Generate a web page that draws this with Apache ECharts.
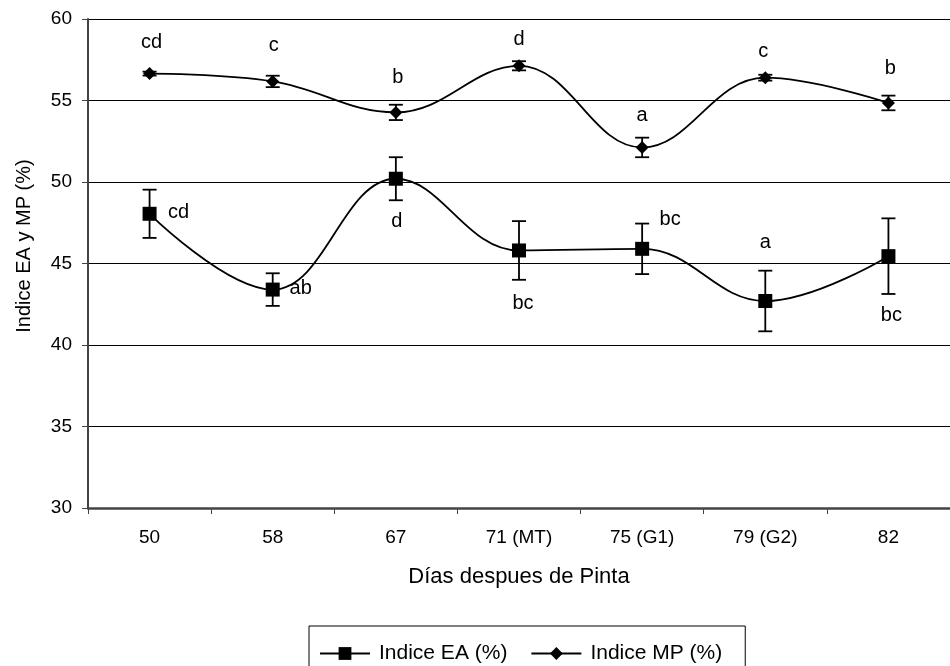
<!DOCTYPE html>
<html>
<head>
<meta charset="utf-8">
<script src="https://cdn.jsdelivr.net/npm/echarts@6/dist/echarts.min.js"></script>
<style>
html,body{margin:0;padding:0;background:#fff;}
#chart{width:950px;height:666px;}
</style>
</head>
<body>
<div id="chart"></div>
<script>
// ---- data ----
const categories = ['50', '58', '67', '71 (MT)', '75 (G1)', '79 (G2)', '82'];
const eaValues = [48.05, 43.4, 50.2, 45.8, 45.9, 42.7, 45.45];
const eaErrors = [1.48, 1.0, 1.32, 1.8, 1.55, 1.86, 2.32];
const mpValues = [56.65, 56.17, 54.27, 57.13, 52.12, 56.4, 54.85];
const mpErrors = [0.12, 0.35, 0.47, 0.28, 0.6, 0.18, 0.45];
const eaLetters = ['cd', 'ab', 'd', 'bc', 'bc', 'a', 'bc'];
const mpLetters = ['cd', 'c', 'b', 'd', 'a', 'c', 'b'];
const yTicks = { min: 30, max: 60, interval: 5 };
const xAxisTitle = 'Días despues de Pinta';
const yAxisTitle = 'Indice EA y MP (%)';
const seriesNames = ['Indice EA (%)', 'Indice MP (%)'];

// ---- label placement (style, relative to marker) ----
const eaLabelOffsets = [[29, -1], [28, -1], [1, 43], [4, 53], [28, -29], [0, -59], [3, 59]];
const mpLabelOffsets = [[2, -31], [1, -36], [2, -35], [0, -26], [0, -32], [-2, -26], [2, -34]];

const FONT = '"Liberation Sans", Arial, sans-serif';

function lineData(values, letters, offsets) {
  return values.map((v, i) => ({
    value: v,
    label: {
      show: true,
      position: 'inside',
      offset: offsets[i],
      formatter: letters[i],
      color: '#000',
      fontSize: 20,
      fontFamily: FONT
    }
  }));
}

function errorData(values, errors) {
  return values.map((v, i) => [i, v - errors[i], v + errors[i]]);
}

function errorRender(params, api) {
  const x = api.value(0);
  const lo = api.coord([x, api.value(1)]);
  const hi = api.coord([x, api.value(2)]);
  const cap = 7;
  const style = { stroke: '#000', lineWidth: 1.8 };
  return {
    type: 'group',
    children: [
      { type: 'line', shape: { x1: lo[0], y1: lo[1], x2: hi[0], y2: hi[1] }, style },
      { type: 'line', shape: { x1: lo[0] - cap, y1: lo[1], x2: lo[0] + cap, y2: lo[1] }, style },
      { type: 'line', shape: { x1: hi[0] - cap, y1: hi[1], x2: hi[0] + cap, y2: hi[1] }, style }
    ]
  };
}

const chart = echarts.init(document.getElementById('chart'), null, { renderer: 'canvas' });

chart.setOption({
  backgroundColor: '#fff',
  animation: false,
  textStyle: { fontFamily: FONT },
  grid: { left: 88, top: 19, width: 872, height: 489, containLabel: false },
  legend: {
    data: seriesNames,
    left: 309,
    top: 626,
    padding: [17, 23, 22, 10],
    itemGap: 23,
    itemWidth: 50,
    itemHeight: 16,
    borderColor: '#000',
    borderWidth: 1,
    formatter: name => '{t|' + name + '}',
    textStyle: {
      color: '#000', fontSize: 21, fontFamily: FONT,
      rich: { t: { fontSize: 21, fontFamily: FONT, color: '#000', padding: [0, 0, 0, 4] } }
    }
  },
  xAxis: {
    type: 'category',
    data: categories,
    boundaryGap: true,
    name: xAxisTitle,
    nameLocation: 'middle',
    nameGap: 58,
    nameTextStyle: { color: '#000', fontSize: 22, fontFamily: FONT },
    axisLine: { lineStyle: { color: '#444', width: 2.5 } },
    axisTick: { show: true, alignWithLabel: false, length: 6, lineStyle: { color: '#444', width: 1 } },
    axisLabel: { color: '#000', fontSize: 19, fontFamily: FONT, margin: 20, interval: 0 },
    splitLine: { show: false }
  },
  yAxis: {
    type: 'value',
    min: yTicks.min,
    max: yTicks.max,
    interval: yTicks.interval,
    name: yAxisTitle,
    nameLocation: 'middle',
    nameGap: 54,
    nameRotate: 90,
    nameTextStyle: { color: '#000', fontSize: 20, fontFamily: FONT, padding: [0, 0, 0, 35] },
    axisLine: { show: true, lineStyle: { color: '#444', width: 2 } },
    axisTick: { show: true, length: 6, lineStyle: { color: '#444', width: 1 } },
    axisLabel: { color: '#000', fontSize: 19, fontFamily: FONT, margin: 16 },
    splitLine: { show: true, lineStyle: { color: '#000', width: 1 } }
  },
  series: [
    {
      name: seriesNames[0],
      type: 'line',
      data: lineData(eaValues, eaLetters, eaLabelOffsets),
      smooth: 0.4,
      symbol: 'rect',
      symbolSize: 14,
      itemStyle: { color: '#000' },
      lineStyle: { color: '#000', width: 1.8 },
      z: 3
    },
    {
      name: seriesNames[1],
      type: 'line',
      data: lineData(mpValues, mpLetters, mpLabelOffsets),
      smooth: 0.4,
      symbol: 'diamond',
      symbolSize: [13, 13],
      itemStyle: { color: '#000' },
      lineStyle: { color: '#000', width: 1.8 },
      z: 3
    },
    {
      type: 'custom',
      renderItem: errorRender,
      data: errorData(eaValues, eaErrors),
      encode: { x: 0, y: [1, 2] },
      silent: true,
      z: 2
    },
    {
      type: 'custom',
      renderItem: errorRender,
      data: errorData(mpValues, mpErrors),
      encode: { x: 0, y: [1, 2] },
      silent: true,
      z: 2
    }
  ]
});
</script>
</body>
</html>
